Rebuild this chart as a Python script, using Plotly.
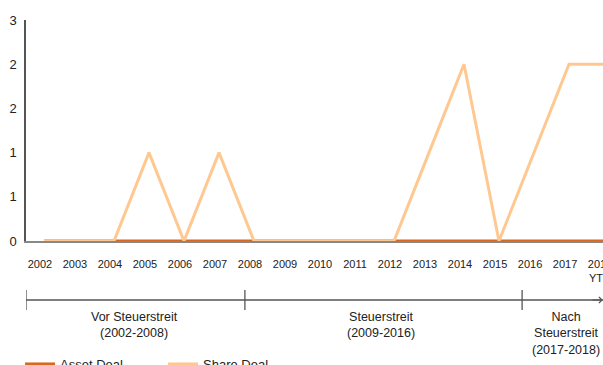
import plotly.graph_objects as go

# Jahre / categories
years = ["2002", "2003", "2004", "2005", "2006", "2007", "2008", "2009", "2010",
         "2011", "2012", "2013", "2014", "2015", "2016", "2017", "2018<br>YTD"]
asset_deal = [0, 0, 0, 0, 0, 0, 0, 0, 0, 0, 0, 0, 0, 0, 0, 0, 0]
share_deal = [0, 0, 0, 1, 0, 1, 0, 0, 0, 0, 0, 1, 2, 0, 1, 2, 2]

y_tick_vals = [0, 0.5, 1, 1.5, 2, 2.5]
y_tick_text = ["0", "1", "1", "2", "2", "3"]

# Phasen der Zeitleiste unter der Achse
phase_labels = ["Vor Steuerstreit<br>(2002-2008)",
                "Steuerstreit<br>(2009-2016)",
                "Nach<br>Steuerstreit<br>(2017-2018)"]
phase_bounds = [-0.514, 5.74, 13.66]
phase_centers = [2.6, 9.63, 14.9]

ASSET = "#D9681E"
SHARE = "#FFC890"
AXIS = "#555555"
FONT = "Liberation Sans, Arial, Helvetica, sans-serif"

W, H = 640, 400
ML, MT, MB, MR = 26, 20, 159, 18
plot_h = H - MT - MB


def py(pix):
    """Convert a pixel row to paper y."""
    return (H - MB - pix) / plot_h


fig = go.Figure()
fig.add_trace(go.Scatter(x=list(range(len(years))), y=asset_deal, mode="lines",
                         name="Asset Deal", line=dict(color=ASSET, width=3)))
fig.add_trace(go.Scatter(x=list(range(len(years))), y=share_deal, mode="lines",
                         name="Share Deal", line=dict(color=SHARE, width=3)))

shapes = []
# Zeitleiste
line_y = py(241 + 59)
shapes.append(dict(type="line", xref="x", yref="paper", x0=-0.514, x1=15.97,
                   y0=line_y, y1=line_y, line=dict(color=AXIS, width=1.3)))
for b in phase_bounds:
    shapes.append(dict(type="line", xref="x", yref="paper", x0=b, x1=b,
                       y0=py(241 + 49), y1=py(241 + 69), line=dict(color=AXIS, width=1.3)))

annotations = []
for c, t in zip(phase_centers, phase_labels):
    annotations.append(dict(x=c, y=py(241 + 67), xref="x", yref="paper", text=t,
                            showarrow=False, yanchor="top", xanchor="center",
                            font=dict(size=12.5, color="#222222", family=FONT),
                            align="center"))
# Pfeilspitze
annotations.append(dict(x=15.97, y=line_y, ax=-12, ay=0, xref="x", yref="paper",
                        axref="pixel", ayref="pixel", text="", showarrow=True,
                        arrowhead=4, arrowsize=1, arrowwidth=1.2, arrowcolor=AXIS))

fig.update_layout(
    width=W, height=H,
    margin=dict(l=ML, r=MR, t=MT, b=MB, autoexpand=False),
    paper_bgcolor="white", plot_bgcolor="white",
    font=dict(family=FONT, color="#222222"),
    showlegend=True,
    legend=dict(orientation="h", x=-0.01, xanchor="left", y=py(241 + 108), yanchor="top",
                font=dict(size=13, color="#222222"), entrywidth=98, entrywidthmode="pixels"),
    shapes=shapes,
    annotations=annotations,
)
fig.update_xaxes(tickmode="array", tickvals=list(range(len(years))), ticktext=years,
                 range=[-0.514, 16.514], showgrid=False, zeroline=False,
                 showline=True, linecolor="#888888", linewidth=1.5, automargin=False,
                 ticks="", tickfont=dict(size=11, color="#222222"), ticklabelshift=-4,
                 ticklabelstandoff=12)
fig.update_yaxes(range=[0, 2.5], tickmode="array", tickvals=y_tick_vals, ticktext=y_tick_text,
                 showgrid=False, zeroline=False, showline=True, linecolor=AXIS,
                 linewidth=1.5, ticks="", tickfont=dict(size=13, color="#222222"),
                 ticklabelstandoff=5, automargin=False)

fig.write_html("out.html")
